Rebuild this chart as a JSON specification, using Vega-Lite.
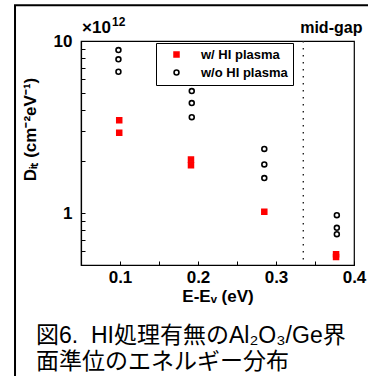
{
  "$schema": "https://vega.github.io/schema/vega-lite/v6.json",
  "width": 273,
  "height": 224,
  "autosize": {"type": "none"},
  "padding": {"left": 81, "top": 41, "right": 14, "bottom": 111},
  "background": "white",
  "config": {
    "font": "Liberation Sans",
    "view": {"stroke": "black", "strokeWidth": 1.2},
    "axis": {
      "domainColor": "black", "domainWidth": 1.2, "tickColor": "black", "tickWidth": 1,
      "labelColor": "black", "titleColor": "black", "grid": false,
      "labelFont": "Liberation Sans", "labelFontWeight": "bold", "labelFontSize": 17,
      "titleFont": "Liberation Sans", "titleFontWeight": "bold", "titleFontSize": 17
    }
  },
  "datasets": {
    "points": [
      {"series": "w/ HI plasma", "E": 0.099, "Dit": 3.47},
      {"series": "w/ HI plasma", "E": 0.099, "Dit": 2.93},
      {"series": "w/ HI plasma", "E": 0.191, "Dit": 2.05},
      {"series": "w/ HI plasma", "E": 0.191, "Dit": 1.9},
      {"series": "w/ HI plasma", "E": 0.285, "Dit": 1.02},
      {"series": "w/ HI plasma", "E": 0.377, "Dit": 0.578},
      {"series": "w/ HI plasma", "E": 0.377, "Dit": 0.557},
      {"series": "w/o HI plasma", "E": 0.098, "Dit": 8.86},
      {"series": "w/o HI plasma", "E": 0.098, "Dit": 7.83},
      {"series": "w/o HI plasma", "E": 0.098, "Dit": 6.63},
      {"series": "w/o HI plasma", "E": 0.192, "Dit": 5.12},
      {"series": "w/o HI plasma", "E": 0.192, "Dit": 4.36},
      {"series": "w/o HI plasma", "E": 0.192, "Dit": 3.61},
      {"series": "w/o HI plasma", "E": 0.285, "Dit": 2.36},
      {"series": "w/o HI plasma", "E": 0.285, "Dit": 1.92},
      {"series": "w/o HI plasma", "E": 0.285, "Dit": 1.6},
      {"series": "w/o HI plasma", "E": 0.378, "Dit": 0.973},
      {"series": "w/o HI plasma", "E": 0.378, "Dit": 0.822},
      {"series": "w/o HI plasma", "E": 0.378, "Dit": 0.755}
    ],
    "midgap": [{"E": 0.335, "label": "mid-gap"}],
    "scale": [{"label": "×10", "sup": "12"}],
    "caption": [{"label": "図6.\u00a0 HI処理有無のAl₂O₃/Ge界\n面準位のエネルギー分布"}]
  },
  "layer": [
    {
      "data": {"name": "scale"},
      "mark": {"type": "rect", "fillOpacity": 0, "stroke": "black", "strokeWidth": 2, "clip": false},
      "encoding": {
        "x": {"datum": -0.0346, "type": "quantitative"},
        "x2": {"datum": 0.5},
        "y": {"datum": 16.13, "type": "quantitative"},
        "y2": {"datum": 0.1}
      }
    },
    {
      "data": {"name": "midgap"},
      "mark": {"type": "rule", "color": "#222", "strokeWidth": 1.4, "strokeDash": [1.5, 5.5]},
      "encoding": {"x": {"field": "E", "type": "quantitative"}}
    },
    {
      "data": {"name": "midgap"},
      "mark": {"type": "text", "font": "Liberation Sans", "fontSize": 16, "fontWeight": "bold", "align": "center", "baseline": "alphabetic", "dx": 28, "dy": -8, "color": "black", "clip": false},
      "encoding": {
        "x": {"field": "E", "type": "quantitative"},
        "y": {"datum": 10, "type": "quantitative"},
        "text": {"field": "label"}
      }
    },
    {
      "data": {"name": "scale"},
      "mark": {"type": "text", "font": "Liberation Sans", "fontSize": 17, "fontWeight": "bold", "align": "left", "baseline": "alphabetic", "dx": 1, "dy": -8, "color": "black", "clip": false},
      "encoding": {
        "x": {"datum": 0.05, "type": "quantitative"},
        "y": {"datum": 10, "type": "quantitative"},
        "text": {"field": "label"}
      }
    },
    {
      "data": {"name": "scale"},
      "mark": {"type": "text", "font": "Liberation Sans", "fontSize": 12, "fontWeight": "bold", "align": "left", "baseline": "alphabetic", "dx": 31, "dy": -15, "color": "black", "clip": false},
      "encoding": {
        "x": {"datum": 0.05, "type": "quantitative"},
        "y": {"datum": 10, "type": "quantitative"},
        "text": {"field": "sup"}
      }
    },
    {
      "data": {"name": "caption"},
      "mark": {"type": "text", "font": "Liberation Sans, Noto Sans CJK JP", "fontSize": 23, "fontWeight": "normal", "align": "left", "baseline": "alphabetic", "lineBreak": "\n", "lineHeight": 26, "dx": -45, "dy": 78, "color": "black", "clip": false},
      "encoding": {
        "x": {"datum": 0.05, "type": "quantitative"},
        "y": {"datum": 0.5, "type": "quantitative"},
        "text": {"field": "label"}
      }
    },
    {
      "data": {"name": "points"},
      "mark": {"type": "point", "size": 24, "strokeWidth": 1.6, "opacity": 1},
      "encoding": {
        "x": {
          "field": "E", "type": "quantitative",
          "scale": {"domain": [0.05, 0.4], "nice": false, "zero": false},
          "axis": {
            "title": "E-Eᵥ (eV)",
            "values": [0.1, 0.15, 0.2, 0.25, 0.3, 0.35, 0.4],
            "labelExpr": "abs(datum.value*10 - round(datum.value*10)) < 0.01 ? format(datum.value, '.1f') : ''",
            "labelFlush": false,
            "labelOverlap": false,
            "tickSize": -4,
            "labelPadding": 8,
            "titlePadding": 3
          }
        },
        "y": {
          "field": "Dit", "type": "quantitative",
          "scale": {"type": "log", "domain": [0.5, 10], "nice": false},
          "axis": {
            "title": "Dᵢₜ (cm⁻²eV⁻¹)",
            "values": [0.6, 0.7, 0.8, 0.9, 1, 2, 3, 4, 5, 6, 7, 8, 9, 10],
            "labelExpr": "datum.value == 1 || datum.value == 10 ? format(datum.value, 'd') : ''",
            "labelFlush": false,
            "labelOverlap": false,
            "tickSize": -4,
            "labelPadding": 13,
            "titlePadding": 14,
            "titleY": 88
          }
        },
        "shape": {
          "field": "series", "type": "nominal",
          "scale": {"domain": ["w/ HI plasma", "w/o HI plasma"], "range": ["square", "circle"]},
          "legend": {
            "title": null, "orient": "none", "legendX": 75, "legendY": 2,
            "strokeColor": "black", "fillColor": "white",
            "padding": 5, "symbolOffset": 9, "rowPadding": 4,
            "labelFontSize": 13, "labelFontWeight": "bold", "labelColor": "black",
            "labelFont": "Liberation Sans", "labelOffset": 18,
            "symbolSize": 24, "symbolStrokeWidth": 1.6
          }
        },
        "fill": {
          "field": "series", "type": "nominal",
          "scale": {"domain": ["w/ HI plasma", "w/o HI plasma"], "range": ["#ff0000", "transparent"]}
        },
        "stroke": {
          "field": "series", "type": "nominal",
          "scale": {"domain": ["w/ HI plasma", "w/o HI plasma"], "range": ["#ff0000", "black"]}
        }
      }
    }
  ]
}
